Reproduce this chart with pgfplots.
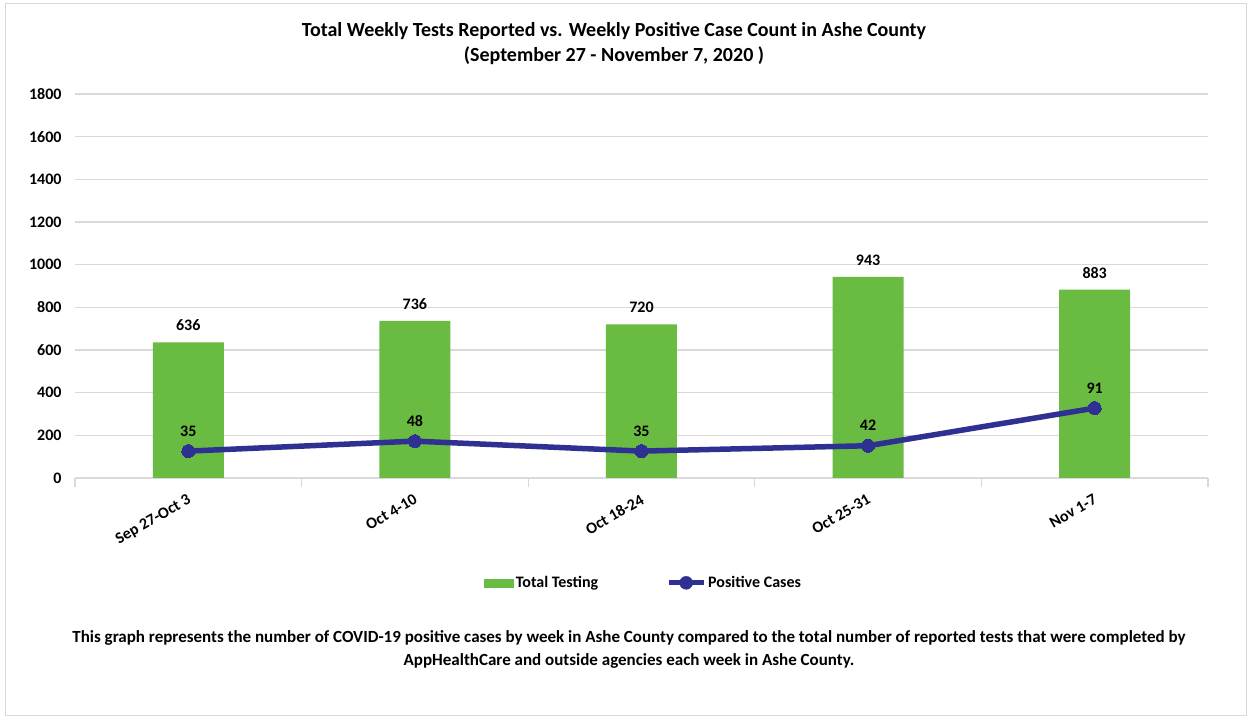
\documentclass[border=0pt]{standalone}
\usepackage{pgfplots}
\pgfplotsset{compat=1.18}
\usepackage{fontspec}
\setmainfont{Carlito}
\definecolor{barg}{RGB}{106,187,66}
\definecolor{lineb}{RGB}{46,49,146}
\definecolor{gridc}{RGB}{217,217,217}
\pgfplotsset{/pgf/number format/assume math mode=true, /pgf/number format/1000 sep={}}

\pgfplotstableread{
x tests cases
0 636 35
1 736 48
2 720 35
3 943 42
4 883 91
}\weekly

\newcommand{\lbl}{\bfseries\fontsize{16}{19}\selectfont}

\begin{document}
\begin{tikzpicture}[x=1pt,y=1pt]
\begin{axis}[
  at={(75pt,241pt)}, anchor=south west,
  scale only axis, width=1133pt, height=384pt,
  xmin=-0.5, xmax=4.5, ymin=0, ymax=1800,
  ytick={0,200,...,1800},
  xtick={0,...,4},
  xticklabels={Sep 27-Oct 3,Oct 4-10,Oct 18-24,Oct 25-31,Nov 1-7},
  axis lines*=left,
  x axis line style={gridc, line width=1.2pt},
  y axis line style={draw=none},
  ymajorgrids, grid style={gridc, line width=1.2pt},
  major tick length=0pt,
  extra x ticks={-0.5,0.5,1.5,2.5,3.5,4.5},
  extra x tick labels={},
  extra x tick style={major tick length=9pt, tick align=outside,
    tick style={gridc, line width=1.2pt}, grid=none},
  y tick label style={font=\lbl, xshift=-10pt},
  x tick label style={font=\lbl, rotate=30, anchor=north east, xshift=-6pt, yshift=-9pt},
  legend style={at={(0.502,-0.273)}, anchor=center, draw=none, fill=none,
    font=\lbl, legend columns=2,
    /tikz/every even column/.append style={column sep=66pt}},
  legend cell align=left,
]
\addplot[ybar, bar width=71pt, fill=barg, draw=none, forget plot,
  nodes near coords, every node near coord/.append style={font=\lbl, anchor=center, yshift=17pt}]
  table[x=x, y=tests] {\weekly};
\addlegendimage{legend image code/.code={\fill[barg] (0pt,-4pt) rectangle (29pt,4pt);}}
\addlegendentry{Total Testing}
\addlegendimage{legend image code/.code={\draw[lineb, line width=5pt] (0pt,0pt) -- (35pt,0pt); \fill[lineb] (17.5pt,0pt) circle (6.5pt);}}
\addlegendentry{Positive Cases}
\end{axis}
\begin{axis}[
  at={(75pt,241pt)}, anchor=south west,
  scale only axis, width=1133pt, height=384pt,
  xmin=-0.5, xmax=4.5, ymin=0, ymax=500,
  hide axis, clip=false,
]
\addplot[lineb, line width=5.5pt, mark=*, mark size=6.5pt, mark options={fill=lineb, draw=lineb, line width=0pt},
  nodes near coords, every node near coord/.append style={font=\lbl, text=black, anchor=center, yshift=20pt}]
  table[x=x, y=cases] {\weekly};
\end{axis}
\node[font=\bfseries\fontsize{20}{25}\selectfont, align=center] at (614,675.5)
  {Total Weekly Tests Reported vs. Weekly Positive Case Count in Ashe County\\(September 27 - November 7, 2020 )};
\node[font=\bfseries\fontsize{17}{23}\selectfont, align=center] at (629,69.5)
  {This graph represents the number of COVID-19 positive cases by week in Ashe County compared to the total number of reported tests that were completed by\\AppHealthCare and outside agencies each week in Ashe County.};
\draw[gridc, line width=1pt] (5,3) rectangle (1246,715);
\pgfresetboundingbox
\path[use as bounding box] (0,0) rectangle (1252,719);
\end{tikzpicture}
\end{document}
